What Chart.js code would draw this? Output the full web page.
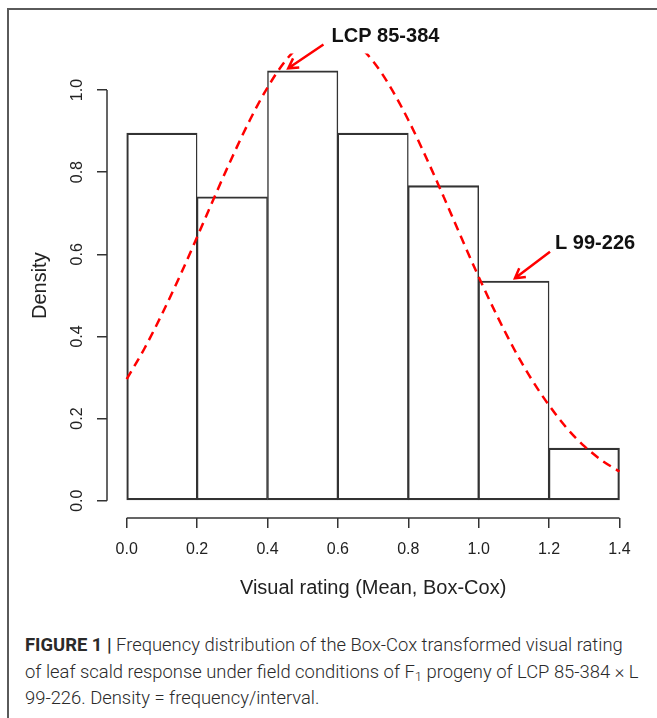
<!DOCTYPE html>
<html>
<head>
<meta charset="utf-8">
<script src="https://cdn.jsdelivr.net/npm/chart.js@4/dist/chart.umd.min.js"></script>
<style>
  html, body { margin: 0; padding: 0; background: #fff; }
  body { width: 657px; height: 718px; position: relative; overflow: hidden; }
  .frame { position: absolute; left: 7px; top: 8px; width: 720px; height: 800px;
           border-left: 2px solid #5a5a5a; border-top: 2px solid #5a5a5a; }
  .plot { position: absolute; left: 0; top: 0; width: 657px; height: 620px; }
  .caption { position: absolute; left: 25px; top: 632px; white-space: nowrap;
             font-family: Roboto, 'Liberation Sans', sans-serif; font-weight: 300;
             font-size: 18.4px; line-height: 26.5px; color: #2a2a2a; }
  .caption b { font-weight: 700; }
</style>
</head>
<body>
<div class="frame"></div>
<div class="plot"><canvas id="hist" width="657" height="620"></canvas></div>
<div class="caption">
  <b>FIGURE 1 |</b> Frequency distribution of the Box-Cox transformed visual rating<br>
  of leaf scald response under field conditions of F<sub style="font-size:13px;vertical-align:-3px;line-height:0">1</sub> progeny of LCP 85-384 × L<br>
  99-226. Density = frequency/interval.
</div>
<script>
// histogram bins (mid points) and densities
const binMids = [0.1, 0.3, 0.5, 0.7, 0.9, 1.1, 1.3];
const densities = [0.895, 0.740, 1.047, 0.895, 0.767, 0.535, 0.128];

// fitted density curve
const curveX = [0, 0.05, 0.1, 0.15, 0.2, 0.25, 0.3, 0.35, 0.4, 0.45, 0.5, 0.55, 0.6, 0.65, 0.7,
                0.75, 0.8, 0.85, 0.9, 0.95, 1.0, 1.05, 1.1, 1.15, 1.2, 1.25, 1.3, 1.35, 1.4];
const curveY = [0.296, 0.370, 0.454, 0.545, 0.642, 0.741, 0.837, 0.927, 1.006, 1.070, 1.114, 1.137, 1.137, 1.114, 1.070,
                1.006, 0.927, 0.837, 0.741, 0.642, 0.545, 0.454, 0.370, 0.296, 0.232, 0.177, 0.133, 0.098, 0.071];

const xTicks = [0.0, 0.2, 0.4, 0.6, 0.8, 1.0, 1.2, 1.4];
const yTicks = [0.0, 0.2, 0.4, 0.6, 0.8, 1.0];

// labelled parents: text anchor + arrow tail/tip in data units
const notes = [
    { text: 'LCP 85-384', x: 0.582, y: 1.118, tail: [0.559, 1.111], tip: [0.459, 1.053] },
    { text: 'L 99-226', x: 1.217, y: 0.612, tail: [1.2026, 0.606], tip: [1.103, 0.5415] }
];

const INK = '#333';
const RED = '#ff0000';

const rAxes = {
    id: 'rAxes',
    afterDraw(chart) {
        const { ctx, scales: { x, y } } = chart;
        ctx.save();
        ctx.strokeStyle = INK;
        ctx.lineWidth = 1.5;
        ctx.beginPath();
        const ax = y.right;
        ctx.moveTo(ax, y.getPixelForValue(yTicks[0]));
        ctx.lineTo(ax, y.getPixelForValue(yTicks[yTicks.length - 1]));
        const ay = x.top;
        ctx.moveTo(x.getPixelForValue(xTicks[0]), ay);
        ctx.lineTo(x.getPixelForValue(xTicks[xTicks.length - 1]), ay);
        ctx.stroke();

        // annotations
        notes.forEach(n => {
            ctx.fillStyle = '#111';
            ctx.font = 'bold 20px "Liberation Sans", Arial, sans-serif';
            ctx.textAlign = 'left';
            ctx.textBaseline = 'alphabetic';
            ctx.fillText(n.text, x.getPixelForValue(n.x), y.getPixelForValue(n.y));

            const x0 = x.getPixelForValue(n.tail[0]), y0 = y.getPixelForValue(n.tail[1]);
            const x1 = x.getPixelForValue(n.tip[0]), y1 = y.getPixelForValue(n.tip[1]);
            const ang = Math.atan2(y1 - y0, x1 - x0);
            const head = 11, spread = Math.PI / 6;
            ctx.strokeStyle = RED;
            ctx.lineWidth = 2.5;
            ctx.lineCap = 'butt';
            ctx.beginPath();
            ctx.moveTo(x0, y0);
            ctx.lineTo(x1, y1);
            ctx.moveTo(x1 - head * Math.cos(ang - spread), y1 - head * Math.sin(ang - spread));
            ctx.lineTo(x1, y1);
            ctx.lineTo(x1 - head * Math.cos(ang + spread), y1 - head * Math.sin(ang + spread));
            ctx.stroke();
        });
        ctx.restore();
    }
};

const tickFont = { family: '"Liberation Sans", Arial, sans-serif', size: 16 };
const titleFont = { family: '"Liberation Sans", Arial, sans-serif', size: 20 };

new Chart(document.getElementById('hist'), {
    data: {
        datasets: [
            {
                type: 'line',
                data: curveX.map((v, i) => ({ x: v, y: curveY[i] })),
                borderColor: RED,
                borderWidth: 2.5,
                borderDash: [9, 6],
                pointRadius: 0,
                cubicInterpolationMode: 'monotone',
                fill: false
            },
            {
                type: 'bar',
                data: binMids.map((v, i) => ({ x: v, y: densities[i] })),
                backgroundColor: 'rgba(0,0,0,0)',
                borderColor: INK,
                borderSkipped: false,
                borderWidth: ctx => ({
                    left: ctx.dataIndex === 0 ? 1.5 : 0.8,
                    right: ctx.dataIndex === binMids.length - 1 ? 1.5 : 0.8,
                    top: 1.5,
                    bottom: 1.5
                }),
                barPercentage: 1,
                categoryPercentage: 1
            }
        ]
    },
    options: {
        responsive: false,
        animation: false,
        events: [],
        layout: { padding: { left: 0, top: 53.5, right: 17.8, bottom: 0 } },
        plugins: { legend: { display: false }, tooltip: { enabled: false } },
        scales: {
            x: {
                type: 'linear',
                min: -0.056,
                max: 1.456,
                offset: false,
                afterFit: s => { s.height = 102.1; },
                afterBuildTicks: s => { s.ticks = xTicks.map(v => ({ value: v })); },
                border: { display: false },
                grid: { offset: false, drawOnChartArea: false, drawTicks: true, tickLength: 10, color: INK, lineWidth: 1.5 },
                ticks: { font: tickFont, color: '#222', padding: 12, maxRotation: 0, callback: v => v.toFixed(1) },
                title: { display: true, text: 'Visual rating (Mean, Box-Cox)', font: titleFont, color: '#222',
                         padding: { top: 0, bottom: 20 } }
            },
            y: {
                type: 'linear',
                min: -0.0419,
                max: 1.0889,
                afterFit: s => { s.width = 107; },
                afterBuildTicks: s => { s.ticks = yTicks.map(v => ({ value: v })); },
                border: { display: false },
                grid: { drawOnChartArea: false, drawTicks: true, tickLength: 10, color: INK, lineWidth: 1.5 },
                ticks: { font: tickFont, color: '#222', padding: 8, minRotation: 90, maxRotation: 90,
                         crossAlign: 'center', callback: v => v.toFixed(1) },
                title: { display: true, text: 'Density', font: titleFont, color: '#222',
                         padding: { top: 28, bottom: 0 } }
            }
        }
    },
    plugins: [rAxes]
});
</script>
</body>
</html>
